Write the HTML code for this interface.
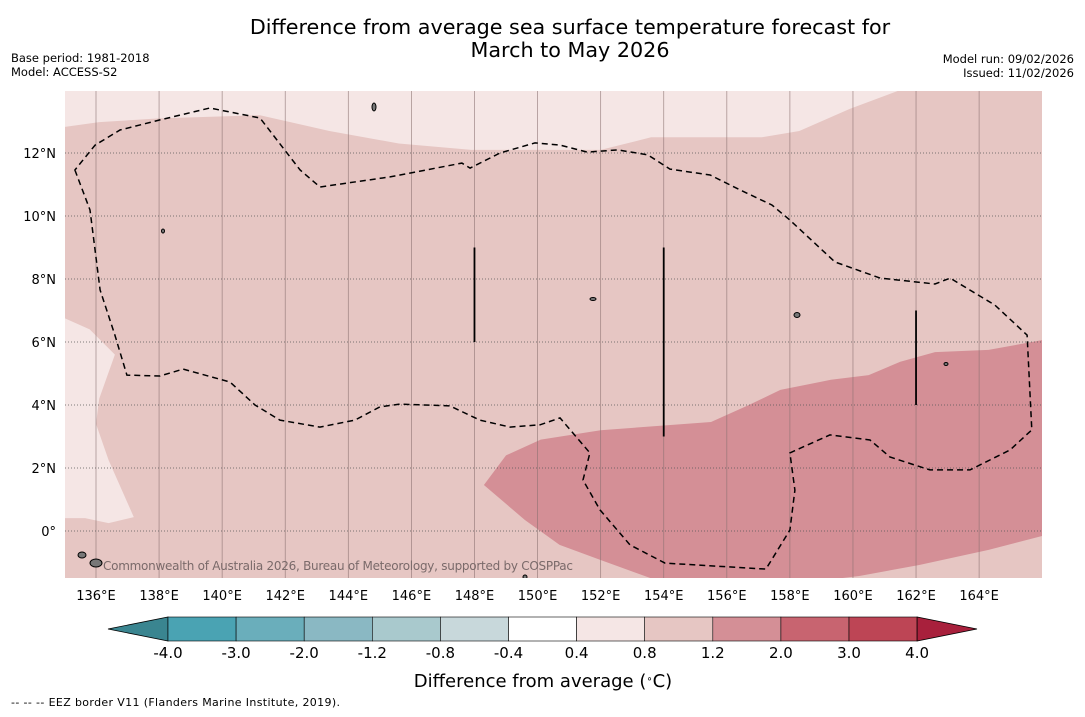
<!DOCTYPE html>
<html><head><meta charset="utf-8">
<style>
body{margin:0;background:#fff;font-family:"DejaVu Sans","Liberation Sans",sans-serif;}
svg text{font-family:"DejaVu Sans","Liberation Sans",sans-serif;}
</style></head>
<body>
<svg id="chart" width="1085" height="713" xmlns="http://www.w3.org/2000/svg">
<text x="570" y="34" font-size="20.7" text-anchor="middle">Difference from average sea surface temperature forecast for</text>
<text x="570" y="57" font-size="20.7" text-anchor="middle">March to May 2026</text>
<text x="11" y="62" font-size="11.5">Base period: 1981-2018</text>
<text x="11" y="76" font-size="11.5">Model: ACCESS-S2</text>
<text x="1074" y="63" font-size="11.5" text-anchor="end">Model run: 09/02/2026</text>
<text x="1074" y="77" font-size="11.5" text-anchor="end">Issued: 11/02/2026</text>
<g id="map"></g>
<g id="cbar"></g>
<text x="543" y="687" font-size="18" text-anchor="middle">Difference from average (<tspan baseline-shift="super" font-size="10">∘</tspan>C)</text>
<text x="11" y="706" font-size="11" textLength="329">--  --  -- EEZ border V11 (Flanders Marine Institute, 2019).</text>
</svg>
<script>
const lonTicks=[136,138,140,142,144,146,148,150,152,154,156,158,160,162,164];
const latTicks=[0,2,4,6,8,10,12];
const lightTop=[[135,12.83],[136.1,12.98],[138,13.1],[141.2,13.2],[143.4,12.7],[145.6,12.3],[147.9,12.1],[152,12.1],[153.6,12.5],[157.1,12.5],[158.3,12.7],[159.9,13.4],[161.5,14],[166,14],[135,14]];
const lightLeft=[[135,6.76],[135.8,6.4],[136.6,5.6],[136.1,4.2],[136,3.4],[136.4,2.25],[137.2,0.44],[136.4,0.25],[135.65,0.41],[135,0.41]];
const darkRegion=[[148.3,1.46],[149,2.4],[150.1,2.9],[152,3.2],[155.5,3.46],[156.7,4],[157.7,4.48],[159.3,4.8],[160.5,4.95],[161.5,5.37],[162.6,5.68],[164.3,5.75],[166,6.06],[166,-0.16],[164.3,-0.6],[162.1,-1.08],[160.2,-1.43],[159.6,-1.5],[153.6,-1.5],[152,-0.92],[150.7,-0.44],[149.6,0.35]];
const eez=[[135.33,11.46],[135.81,10.19],[136.13,7.65],[136.6,6.22],[136.98,4.95],[138.03,4.92],[138.76,5.14],[140.25,4.73],[141.04,4],[141.83,3.52],[143.1,3.3],[144.21,3.52],[145,3.94],[145.64,4.03],[147.22,3.97],[148.17,3.52],[149.13,3.3],[150.08,3.37],[150.71,3.59],[151.66,2.48],[151.44,1.62],[151.98,0.67],[152.93,-0.44],[154.04,-1.02],[157.24,-1.21],[158,0.03],[158.16,1.3],[158,2.48],[159.27,3.05],[160.54,2.89],[161.17,2.35],[162.44,1.94],[163.71,1.94],[164.98,2.57],[165.67,3.21],[165.52,6.22],[164.5,7.17],[163.08,8.03],[162.6,7.84],[160.86,8.03],[159.43,8.54],[158,9.87],[157.43,10.35],[156.42,10.83],[155.47,11.3],[154.2,11.49],[153.5,11.94],[152.55,12.1],[151.57,12.03],[150.71,12.25],[149.92,12.32],[148.81,12],[147.86,11.52],[147.6,11.68],[145.32,11.24],[143.1,10.92],[142.47,11.46],[141.2,13.11],[139.61,13.43],[138.03,13.05],[136.76,12.73],[135.97,12.25]];
const segLon=[148,154,162];
const segLat0=[6,3,4];
const segLat1=[9,9,7];
const cbLabels=["-4.0","-3.0","-2.0","-1.2","-0.8","-0.4","0.4","0.8","1.2","2.0","3.0","4.0"];
const cbColors=["#4aa3b3","#6aaebb","#8ab8c3","#a9c9cd","#c8d8db","#ffffff","#f5e6e5","#e6c6c3","#d48f96","#c86470","#bd4555"];

const NS="http://www.w3.org/2000/svg";
const X0=65,X1=1042,Y0=91,Y1=578;
const xs=lon=>96+(lon-136)*31.54;
const ys=lat=>531-lat*31.5;
function mk(tag,attrs,parent){const e=document.createElementNS(NS,tag);for(const k in attrs)e.setAttribute(k,attrs[k]);parent.appendChild(e);return e;}
const map=document.getElementById('map');
const clip=mk('clipPath',{id:'mc'},map);mk('rect',{x:X0,y:Y0,width:X1-X0,height:Y1-Y0},clip);
const g=mk('g',{'clip-path':'url(#mc)'},map);
const bg=mk('rect',{x:X0,y:Y0,width:X1-X0,height:Y1-Y0,fill:'#e6c6c3'},g);


const pts=a=>a.map(p=>xs(p[0]).toFixed(1)+','+ys(p[1]).toFixed(1)).join(' ');
let p=mk('polygon',{points:pts(lightTop),fill:'#f5e6e5'},g);


p=mk('polygon',{points:pts(lightLeft),fill:'#f5e6e5'},g);


p=mk('polygon',{points:pts(darkRegion),fill:'#d48f96'},g);


lonTicks.forEach(l=>{const x=xs(l);
 const gl=mk('line',{x1:x,x2:x,y1:Y0,y2:Y1,stroke:'#8a7070','stroke-width':0.8,opacity:0.7},g);
 
 
 const t=mk('text',{x:x,y:600,'font-size':13,'text-anchor':'middle'},map);t.textContent=l+'°E';
 
 
});
latTicks.forEach(l=>{const y=ys(l);
 const gl=mk('line',{x1:X0,x2:X1,y1:y,y2:y,stroke:'#555','stroke-width':0.8,'stroke-dasharray':'1,2'},g);
 
 
 const t=mk('text',{x:56,y:y+5,'font-size':13,'text-anchor':'end'},map);t.textContent=l===0?'0°':l+'°N';
 
 
});
p=mk('polygon',{points:pts(eez),fill:'none',stroke:'#000','stroke-width':1.5,'stroke-dasharray':'6,4'},g);


segLon.forEach((l,i)=>{const s=mk('line',{x1:xs(l),x2:xs(l),y1:ys(segLat0[i]),y2:ys(segLat1[i]),stroke:'#000','stroke-width':1.8},g);
 
 });
[[82,555,4,3],[96,563,6,4],[374,107,2,4],[797,315,3,2.5],[593,299,3,1.5],[163,231,1.5,2],[946,364,2,1.5],[525,577,2,2]].forEach(d=>{
 const e=mk('ellipse',{cx:d[0],cy:d[1],rx:d[2],ry:d[3],fill:'#777',stroke:'#000','stroke-width':1},g);
 
 });
const cr=mk('text',{x:103,y:570,'font-size':12,fill:'#7a6a6a',textLength:470},g);cr.textContent='Commonwealth of Australia 2026, Bureau of Meteorology, supported by COSPPac';


const cb=document.getElementById('cbar');
const cx0=168,cw=68.1,cy0=617,ch=24;
let a=mk('polygon',{points:`${cx0},${cy0} ${cx0},${cy0+ch} 108,${cy0+ch/2}`,fill:'#3a8590',stroke:'#000','stroke-width':0.8},cb);


cbColors.forEach((c,i)=>{const r=mk('rect',{x:cx0+i*cw,y:cy0,width:cw,height:ch,fill:c,stroke:'#000','stroke-width':0.6},cb);
 
 });
const xe=cx0+cbColors.length*cw;
a=mk('polygon',{points:`${xe},${cy0} ${xe},${cy0+ch} 977,${cy0+ch/2}`,fill:'#a8203c',stroke:'#000','stroke-width':0.8},cb);


cbLabels.forEach((l,i)=>{const t=mk('text',{x:cx0+i*cw,y:658,'font-size':15,'text-anchor':'middle'},cb);t.textContent=l;
 
 });
</script>
</body></html>
